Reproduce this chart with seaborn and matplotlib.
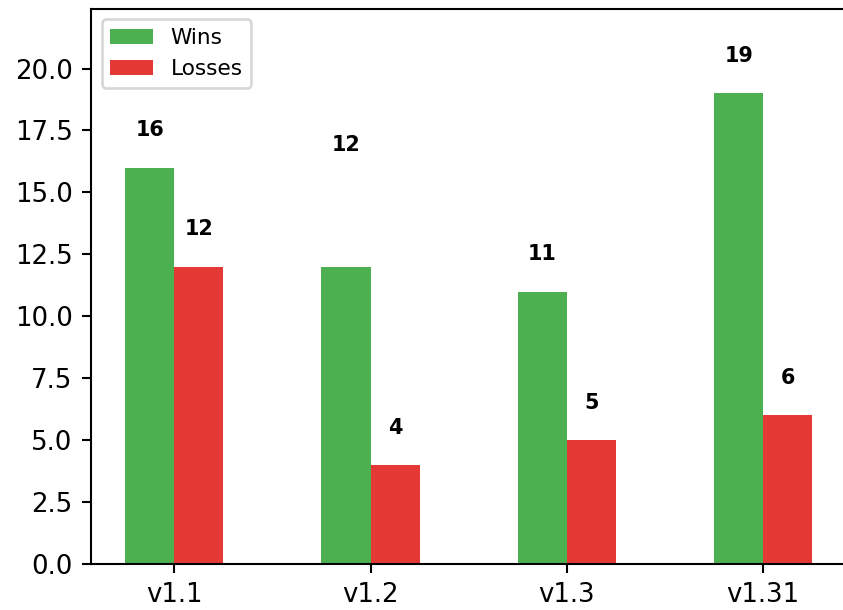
import seaborn as sns
import matplotlib.pyplot as plt
import pandas as pd

# Daten
versions = ["v1.1", "v1.2", "v1.3", "v1.31"]
wins = [16, 12, 11, 19]
losses = [12, 4, 5, 6]
# label sits higher over the v1.2 wins bar in the original
win_label_extra = [0, 3.4, 0, 0]
loss_label_extra = [0, 0, 0, 0]

df = pd.DataFrame({
    "version": versions * 2,
    "count": wins + losses,
    "result": ["Wins"] * len(wins) + ["Losses"] * len(losses),
})

palette = {"Wins": "#4CAF50", "Losses": "#E53935"}

DPI = 187
fig = plt.figure(figsize=(843 / DPI, 610 / DPI), dpi=DPI)
ax = fig.add_axes([0.1076, 0.0754, 0.8968, 0.9105])

sns.barplot(data=df, x="version", y="count", hue="result", palette=palette,
            width=0.5, gap=0, saturation=1, linewidth=0, ax=ax)

# Werte ueber die Balken schreiben
for container, extra in zip(ax.containers, [win_label_extra, loss_label_extra]):
    for bar, e in zip(container, extra):
        x = bar.get_x() + bar.get_width() / 2
        h = bar.get_height()
        ax.text(x, h + 1.1 + e, f"{int(h)}", ha="center", va="bottom",
                fontsize=8, fontweight="bold")

ax.set_xlim(-0.425, 3.425)
ax.set_ylim(0, max(wins + losses) * 1.18)
ax.set_xlabel("")
ax.set_ylabel("")
ax.spines["right"].set_visible(False)

handles, labels = ax.get_legend_handles_labels()
ax.legend(handles, labels, loc="upper left", fontsize="small")

plt.savefig("out.png", dpi=DPI)
